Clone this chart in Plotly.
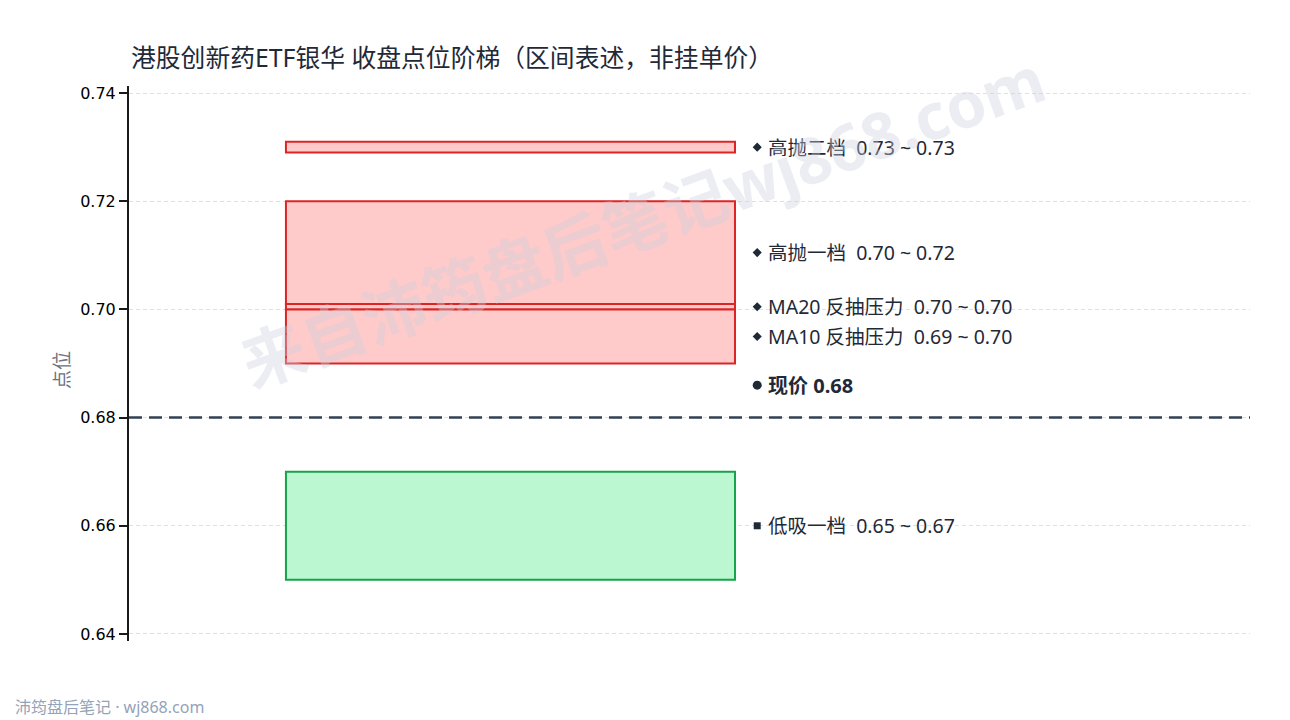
import plotly.graph_objects as go

# ---------------------------
# Data
# ---------------------------
zone_names = ["高抛二档", "高抛一档", "MA20 反抽压力", "MA10 反抽压力", "低吸一档"]
zone_low = [0.729, 0.701, 0.700, 0.690, 0.650]
zone_high = [0.731, 0.720, 0.701, 0.700, 0.670]
zone_kind = ["sell", "sell", "sell", "sell", "buy"]
current_price = 0.68
y_ticks = [0.64, 0.66, 0.68, 0.70, 0.72, 0.74]

FONT = "Noto Sans, Noto Sans CJK SC, sans-serif"
DARK = "#1f2937"
styles = {
    "sell": dict(line="#dc2626", fill="#fecaca", symbol="diamond", msize=7),
    "buy": dict(line="#16a34a", fill="#bbf7d0", symbol="square", msize=7),
}

fig = go.Figure()
# invisible trace so the axes exist
fig.add_trace(go.Scatter(x=[0, 1], y=[min(zone_low), max(zone_high)],
                         mode="markers", marker=dict(opacity=0),
                         hoverinfo="skip", showlegend=False))

box_x0, box_x1 = 0.14, 0.5406
mark_x, text_x = 0.5604, 0.5685

for name, lo, hi, kind in zip(zone_names, zone_low, zone_high, zone_kind):
    st = styles[kind]
    mid = (lo + hi) / 2
    fig.add_shape(type="rect", xref="x", yref="y", x0=box_x0, x1=box_x1,
                  y0=lo, y1=hi, fillcolor=st["fill"],
                  line=dict(color=st["line"], width=2), layer="above")
    fig.add_trace(go.Scatter(
        x=[mark_x], y=[mid], mode="markers", hoverinfo="skip", showlegend=False,
        marker=dict(symbol=st["symbol"], size=st["msize"], color=DARK)))
    fig.add_annotation(
        x=text_x, y=mid, xref="x", yref="y",
        xanchor="left", yanchor="middle", showarrow=False,
        text=f"{name}&nbsp;&nbsp;{lo:.2f} ~ {hi:.2f}",
        font=dict(family=FONT, size=19.5, color=DARK))

# current price line
fig.add_shape(type="line", xref="paper", yref="y", x0=0, x1=1,
              y0=current_price, y1=current_price,
              line=dict(color="#334155", width=2.5, dash="13px,7px"))
fig.add_trace(go.Scatter(
    x=[mark_x], y=[current_price + 0.006], mode="markers",
    hoverinfo="skip", showlegend=False,
    marker=dict(symbol="circle", size=9, color=DARK)))
fig.add_annotation(
    x=text_x, y=current_price + 0.006, xref="x", yref="y",
    xanchor="left", yanchor="middle", showarrow=False,
    text=f"<b>现价 {current_price:.2f}</b>",
    font=dict(family=FONT, size=20, color=DARK))

# title
fig.add_annotation(
    x=0, y=1.0523, xref="paper", yref="paper", showarrow=False,
    xanchor="left", yanchor="middle",
    text="港股创新药ETF银华 收盘点位阶梯（区间表述，非挂单价）",
    font=dict(family=FONT, size=24.8, color=DARK))

# y axis title
fig.add_annotation(
    x=-0.0598, y=0.488, xref="paper", yref="paper", showarrow=False,
    xanchor="center", yanchor="middle", textangle=-90,
    text="点位", font=dict(family=FONT, size=19, color="#6b7280"))

# watermark
fig.add_annotation(
    x=0.458, y=0.758, xref="paper", yref="paper", showarrow=False,
    xanchor="center", yanchor="middle",
    text="<b>来自沛筠盘后笔记wj868.com</b>", textangle=-20,
    font=dict(family=FONT, size=64, color="rgba(203,208,220,0.38)"))

# footer
fig.add_annotation(
    x=-0.1035, y=-0.119, xref="paper", yref="paper", showarrow=False,
    xanchor="left", yanchor="middle",
    text="沛筠盘后笔记 · wj868.com",
    font=dict(family=FONT, size=16, color="#94a3b8"))

fig.update_layout(
    width=1282, height=712,
    margin=dict(l=121, r=40, t=78, b=79),
    plot_bgcolor="white", paper_bgcolor="white",
    showlegend=False,
    font=dict(family=FONT),
)
fig.update_xaxes(range=[0, 1], visible=False, showgrid=False)
fig.update_yaxes(
    range=[0.6387, 0.7413], tickvals=y_ticks, tickformat=".2f",
    showline=True, linecolor="#1a1a1a", linewidth=2,
    ticks="outside", ticklen=8, tickwidth=2, tickcolor="#1a1a1a",
    tickfont=dict(family="DejaVu Sans", size=16, color="black"),
    showgrid=True, gridcolor="#e0e0e0", griddash="4px,3px", gridwidth=1,
    zeroline=False,
)

fig.write_html("out.html")
